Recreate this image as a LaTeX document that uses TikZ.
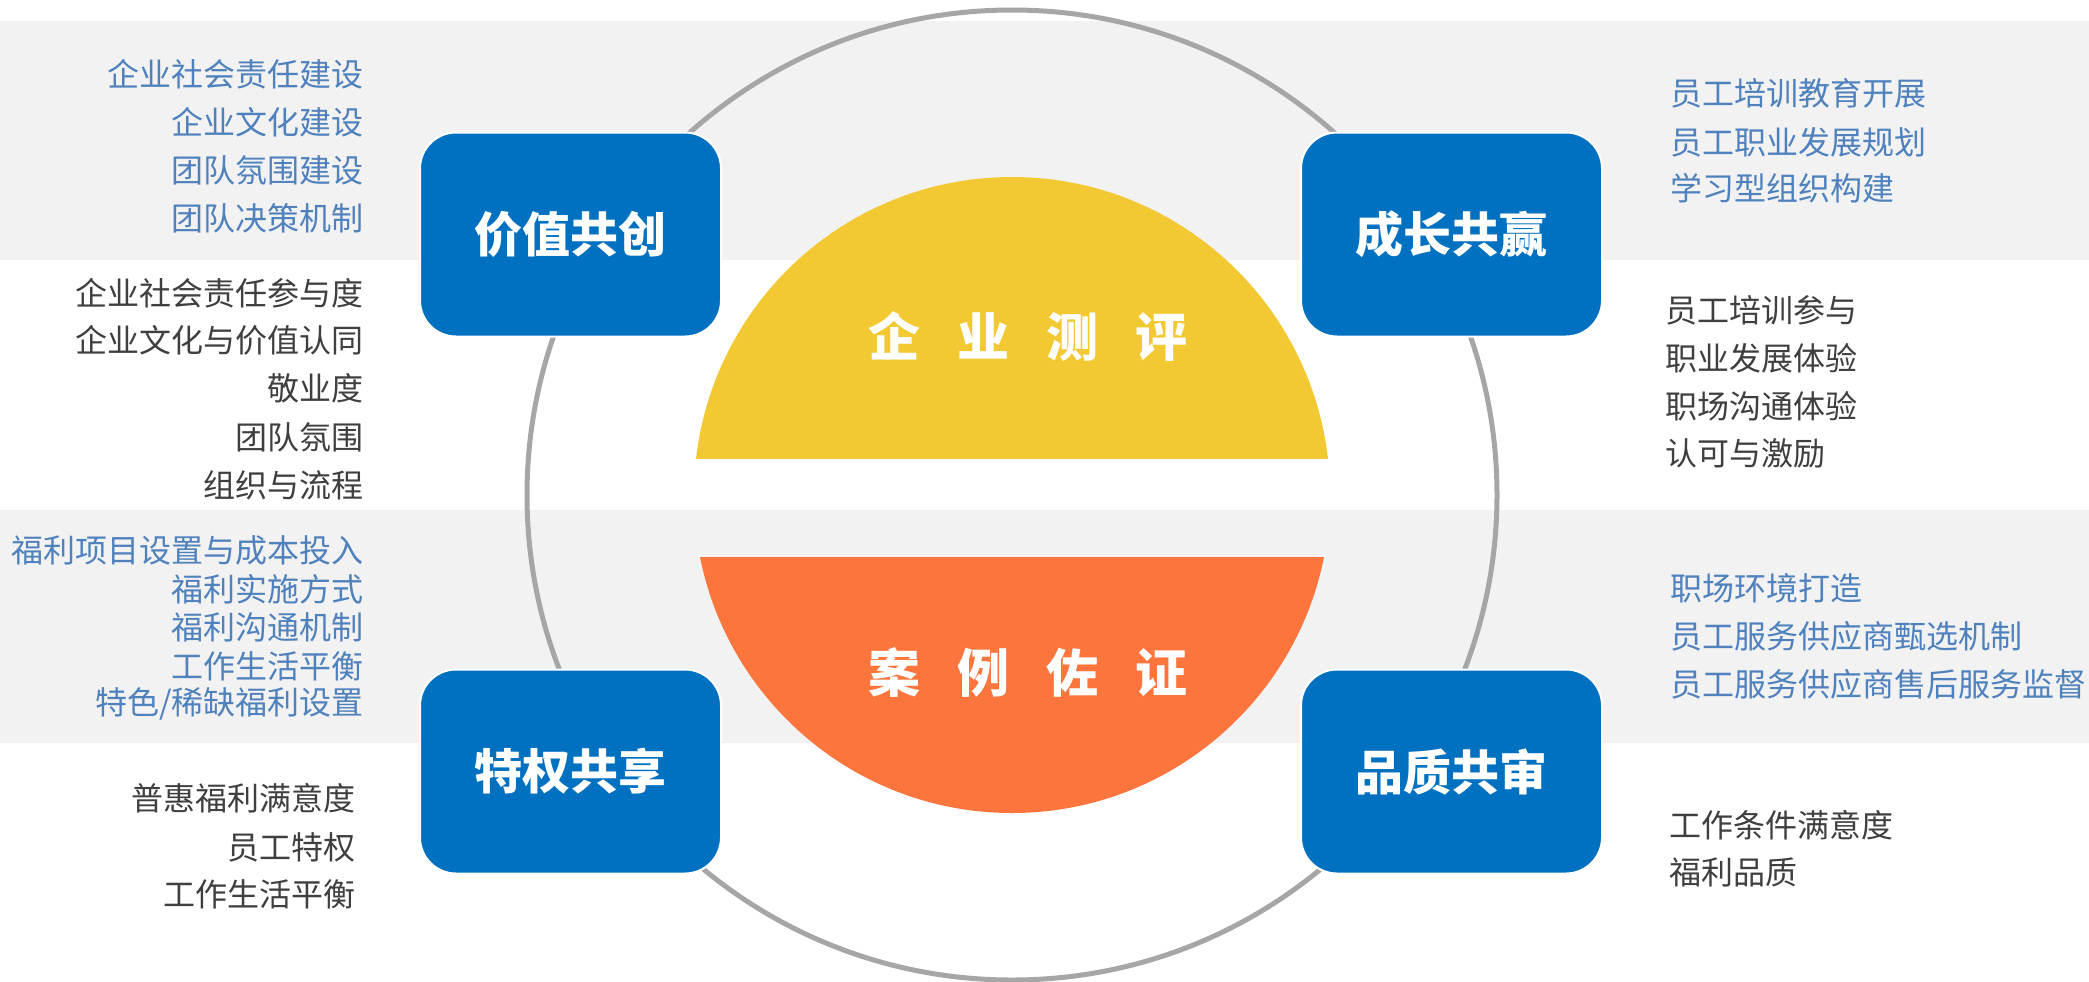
\documentclass[tikz,border=0pt]{standalone}
\usepackage{fontspec}
\newfontfamily\cjk{Noto Sans CJK SC}
\definecolor{bandgray}{HTML}{F2F2F2}
\definecolor{circgray}{HTML}{A6A6A6}
\definecolor{boxblue}{HTML}{0070C0}
\definecolor{txtblue}{HTML}{4F81BD}
\definecolor{txtdark}{HTML}{3F3F3F}
\definecolor{segyellow}{HTML}{F2C933}
\definecolor{segorange}{HTML}{FC753C}
\tikzset{
  bluebox/.style={fill=boxblue, draw=white, line width=1pt, rounded corners=18pt,
    minimum width=150.5pt, minimum height=102pt, inner sep=0pt, text=white,
    font=\cjk\bfseries\fontsize{24}{24}\selectfont},
  bluetxt/.style={inner sep=0pt, text=txtblue, font=\cjk\fontsize{16}{16}\selectfont},
  darktxt/.style={inner sep=0pt, text=txtdark, font=\cjk\fontsize{16}{16}\selectfont},
  centertxt/.style={inner sep=0pt, text=white, font=\cjk\bfseries\fontsize{26}{26}\selectfont}
}
\begin{document}
\begin{tikzpicture}[x=0.5pt,y=-0.5pt]
\useasboundingbox (0,0) rectangle (2089,981);
\fill[white] (0,0) rectangle (2089,981);
\fill[bandgray] (0,21) rectangle (2089,260);
\fill[bandgray] (0,510) rectangle (2089,743);
\draw[circgray, line width=2.5pt] (1012,495) circle[radius=485];
\begin{scope}
  \clip (0,0) rectangle (2089,458);
  \fill[segyellow] (1012,495) circle[radius=318];
\end{scope}
\begin{scope}
  \clip (0,557) rectangle (2089,981);
  \fill[segorange] (1012,495) circle[radius=318];
\end{scope}
\node[centertxt] (c1) at (1028,337) {企\hspace{18.5pt}业\hspace{18.5pt}测\hspace{18.5pt}评};
\node[centertxt] (c2) at (1028,672) {案\hspace{18.5pt}例\hspace{18.5pt}佐\hspace{18.5pt}证};
\node[bluebox] (b1) at (570.5,234.5) {价值共创};
\node[bluebox] (b2) at (1451.5,234.5) {成长共赢};
\node[bluebox] (b3) at (570.5,771.5) {特权共享};
\node[bluebox] (b4) at (1451.5,771.5) {品质共审};
% left top blue
\node[bluetxt, anchor=east] (lt1) at (364,74) {企业社会责任建设};
\node[bluetxt, anchor=east] (lt2) at (364,122) {企业文化建设};
\node[bluetxt, anchor=east] (lt3) at (364,170) {团队氛围建设};
\node[bluetxt, anchor=east] (lt4) at (364,218) {团队决策机制};
% left top dark
\node[darktxt, anchor=east] (ld1) at (364,293) {企业社会责任参与度};
\node[darktxt, anchor=east] (ld2) at (364,340) {企业文化与价值认同};
\node[darktxt, anchor=east] (ld3) at (364,388) {敬业度};
\node[darktxt, anchor=east] (ld4) at (364,437) {团队氛围};
\node[darktxt, anchor=east] (ld5) at (364,485) {组织与流程};
% left bottom blue
\node[bluetxt, anchor=east] (lb1) at (364,550) {福利项目设置与成本投入};
\node[bluetxt, anchor=east] (lb2) at (364,589) {福利实施方式};
\node[bluetxt, anchor=east] (lb3) at (364,627) {福利沟通机制};
\node[bluetxt, anchor=east] (lb4) at (364,666) {工作生活平衡};
\node[bluetxt, anchor=east] (lb5) at (364,704) {特色/稀缺福利设置};
% left bottom dark
\node[darktxt, anchor=east] (lbd1) at (356,798) {普惠福利满意度};
\node[darktxt, anchor=east] (lbd2) at (356,847) {员工特权};
\node[darktxt, anchor=east] (lbd3) at (356,894) {工作生活平衡};
% right top blue
\node[bluetxt, anchor=west] (rt1) at (1670,93) {员工培训教育开展};
\node[bluetxt, anchor=west] (rt2) at (1670,142) {员工职业发展规划};
\node[bluetxt, anchor=west] (rt3) at (1670,188) {学习型组织构建};
% right top dark
\node[darktxt, anchor=west] (rd1) at (1665,310) {员工培训参与};
\node[darktxt, anchor=west] (rd2) at (1665,358) {职业发展体验};
\node[darktxt, anchor=west] (rd3) at (1665,406) {职场沟通体验};
\node[darktxt, anchor=west] (rd4) at (1665,453) {认可与激励};
% right bottom blue
\node[bluetxt, anchor=west] (rb1) at (1670,588) {职场环境打造};
\node[bluetxt, anchor=west] (rb2) at (1670,636) {员工服务供应商甄选机制};
\node[bluetxt, anchor=west] (rb3) at (1670,684) {员工服务供应商售后服务监督};
% right bottom dark
\node[darktxt, anchor=west] (rbd1) at (1669,825) {工作条件满意度};
\node[darktxt, anchor=west] (rbd2) at (1669,872) {福利品质};
\end{tikzpicture}
\end{document}
